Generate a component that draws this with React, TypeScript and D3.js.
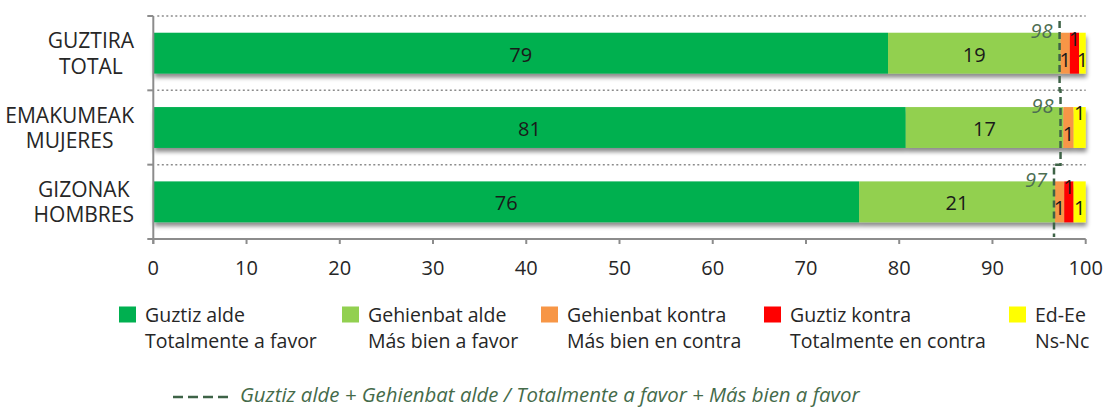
import React, { useLayoutEffect, useRef, useState } from "react";
import * as d3 from "d3";

// ---------- data ----------
const categoryEu = ["GUZTIRA", "EMAKUMEAK", "GIZONAK"];
const categoryEs = ["TOTAL", "MUJERES", "HOMBRES"];

const seriesEu = ["Guztiz alde", "Gehienbat alde", "Gehienbat kontra", "Guztiz kontra", "Ed-Ee"];
const seriesEs = ["Totalmente a favor", "Más bien a favor", "Más bien en contra", "Totalmente en contra", "Ns-Nc"];
const seriesColors = ["#00b050", "#92d050", "#f79646", "#ff0000", "#ffff00"];

const guztizAlde = [78.8, 80.7, 75.7];
const gehienbatAlde = [18.5, 16.9, 21.0];
const gehienbatKontra = [1.0, 1.1, 1.0];
const guztizKontra = [1.0, 0, 1.0];
const edEe = [0.7, 1.3, 1.3];

const favorSum = [97.2, 97.3, 96.6];
const favorSumLabels = ["98", "98", "97"];

const xTicks = [0, 10, 20, 30, 40, 50, 60, 70, 80, 90, 100];

const sumLegendText = "Guztiz alde + Gehienbat alde / Totalmente a favor + Más bien a favor";

// ---------- layout ----------
const W = 1104;
const H = 407;
const FONT = "'Open Sans', Lato, sans-serif";
const FS_TICK = 20;
const FS_CAT = 21;
const FS_VAL = 20;
const FS_LEG = 19.5;
const FS_SUMLEG = 20.4;
const plotLeft = 153.3;
const plotRight = 1085.7;
const plotTop = 16;
const plotBottom = 239;

const seriesValues = [guztizAlde, gehienbatAlde, gehienbatKontra, guztizKontra, edEe];

export default function App() {
  const catRight = 134;
  const [catCenters, setCatCenters] = useState<number[]>(categoryEu.map(() => 92));
  const catRefs = useRef<(SVGTextElement | null)[]>([]);

  useLayoutEffect(() => {
    const centers = categoryEu.map((_, i) => {
      const a = catRefs.current[2 * i];
      const b = catRefs.current[2 * i + 1];
      const wa = a ? a.getComputedTextLength() : 0;
      const wb = b ? b.getComputedTextLength() : 0;
      return catRight - Math.max(wa, wb) / 2;
    });
    if (centers.some((c, i) => Math.abs(c - catCenters[i]) > 0.5)) setCatCenters(centers);
  });

  const x = d3.scaleLinear().domain([0, 100]).range([plotLeft, plotRight]);
  const y = d3
    .scaleBand<string>()
    .domain(categoryEu)
    .range([plotTop, plotBottom])
    .paddingInner(0.45)
    .paddingOuter(0.225);
  const step = y.step();
  const bw = y.bandwidth();

  const boundaries = categoryEu.map((_, i) => plotTop + i * step).concat([plotBottom]);

  const rows = categoryEu.map((cat, ci) => {
    let acc = 0;
    let smallIdx = 0;
    return seriesValues.map((vals, si) => {
      const v = vals[ci];
      const x0 = acc;
      acc += v;
      const small = v < 3;
      let dy = 0;
      if (small && v > 0) {
        dy = smallIdx % 2 === 0 ? 5 : -16;
        smallIdx++;
      }
      return { cat, ci, si, v, x0, x1: acc, small, dy };
    });
  });

  const linePts: [number, number][] = [];
  favorSum.forEach((v, i) => {
    linePts.push([x(v), boundaries[i] + (i === 0 ? 5 : 0)]);
    linePts.push([x(v), boundaries[i + 1] - (i === favorSum.length - 1 ? 2 : 0)]);
  });
  const lineGen = d3.line();

  const legendX = [119, 342, 541, 764, 1009];

  return (
    <svg
      width={W}
      height={H}
      style={{ position: "absolute", left: 0, top: 0, background: "#fff" }}
      fontFamily={FONT}
    >
      <defs>
        <filter id="barShadow" x="-5%" y="-20%" width="110%" height="160%">
          <feDropShadow dx="1" dy="4" stdDeviation="2.2" floodColor="#000" floodOpacity="0.45" />
        </filter>
      </defs>

      {boundaries.slice(0, 3).map((b, i) => (
        <line
          key={"g" + i}
          x1={plotLeft + 4}
          x2={plotRight}
          y1={b}
          y2={b}
          stroke="#8c8c8c"
          strokeWidth={1.5}
          strokeDasharray="2 2.5"
        />
      ))}

      {rows.map((row, ri) => (
        <g key={"r" + ri} filter="url(#barShadow)">
          {row
            .filter((s) => s.v > 0)
            .map((s) => (
              <rect
                key={s.si}
                x={x(s.x0)}
                y={y(s.cat)}
                width={x(s.x1) - x(s.x0)}
                height={bw}
                fill={seriesColors[s.si]}
              />
            ))}
        </g>
      ))}

      <line x1={plotLeft} x2={plotLeft} y1={plotTop} y2={plotBottom + 5} stroke="#8c8c8c" strokeWidth={2} />
      {boundaries.map((b, i) => (
        <line key={"yt" + i} x1={plotLeft - 6} x2={plotLeft} y1={b} y2={b} stroke="#8c8c8c" strokeWidth={2} />
      ))}
      <line x1={plotLeft} x2={plotRight} y1={plotBottom} y2={plotBottom} stroke="#8c8c8c" strokeWidth={2} />
      {xTicks.map((t) => (
        <g key={"xt" + t}>
          <line x1={x(t)} x2={x(t)} y1={plotBottom} y2={plotBottom + 5} stroke="#8c8c8c" strokeWidth={2} />
          <text x={x(t)} y={275} textAnchor="middle" fontSize={FS_TICK} fill="#262626">
            {t}
          </text>
        </g>
      ))}

      {categoryEu.map((c, i) => {
        const cx = catCenters[i];
        const cy = (y(c) as number) + bw / 2;
        return (
          <g key={"c" + i}>
            <text
              ref={(el) => {
                catRefs.current[2 * i] = el;
              }}
              x={cx}
              y={cy - 5}
              textAnchor="middle"
              fontSize={FS_CAT}
              fill="#262626"
            >
              {c}
            </text>
            <text
              ref={(el) => {
                catRefs.current[2 * i + 1] = el;
              }}
              x={cx}
              y={cy + 20.5}
              textAnchor="middle"
              fontSize={FS_CAT}
              fill="#262626"
            >
              {categoryEs[i]}
            </text>
          </g>
        );
      })}

      {rows.map((row) =>
        row
          .filter((s) => s.v > 0)
          .map((s) => (
            <text
              key={s.ci + "-" + s.si}
              x={(x(s.x0) + x(s.x1)) / 2}
              y={(y(s.cat) as number) + bw / 2 + 1 + s.dy}
              textAnchor="middle"
              dominantBaseline="central"
              fontSize={FS_VAL}
              fill="#1a1a1a"
            >
              {Math.round(s.v)}
            </text>
          ))
      )}

      <path
        d={lineGen(linePts) || ""}
        fill="none"
        stroke="#3e6347"
        strokeWidth={2.5}
        strokeDasharray="7 4"
      />
      {favorSum.map((v, i) => (
        <text
          key={"fs" + i}
          x={x(v) - 7}
          y={(y(categoryEu[i]) as number) - 2}
          textAnchor="end"
          dominantBaseline="central"
          fontSize={FS_VAL}
          fontStyle="italic"
          fill="#4d6e52"
        >
          {favorSumLabels[i]}
        </text>
      ))}

      {seriesEu.map((s, i) => (
        <g key={"l" + i}>
          <rect x={legendX[i]} y={306.5} width={17} height={16} fill={seriesColors[i]} />
          <text x={legendX[i] + 26} y={321.5} fontSize={FS_LEG} fill="#262626">
            {s}
          </text>
          <text x={legendX[i] + 26} y={347.5} fontSize={FS_LEG} fill="#262626">
            {seriesEs[i]}
          </text>
        </g>
      ))}
      <line x1={173} x2={228} y1={397} y2={397} stroke="#3e6347" strokeWidth={2.5} strokeDasharray="10 5" />
      <text x={240} y={402} fontSize={FS_SUMLEG} fontStyle="italic" fill="#456b4a">
        {sumLegendText}
      </text>
    </svg>
  );
}
